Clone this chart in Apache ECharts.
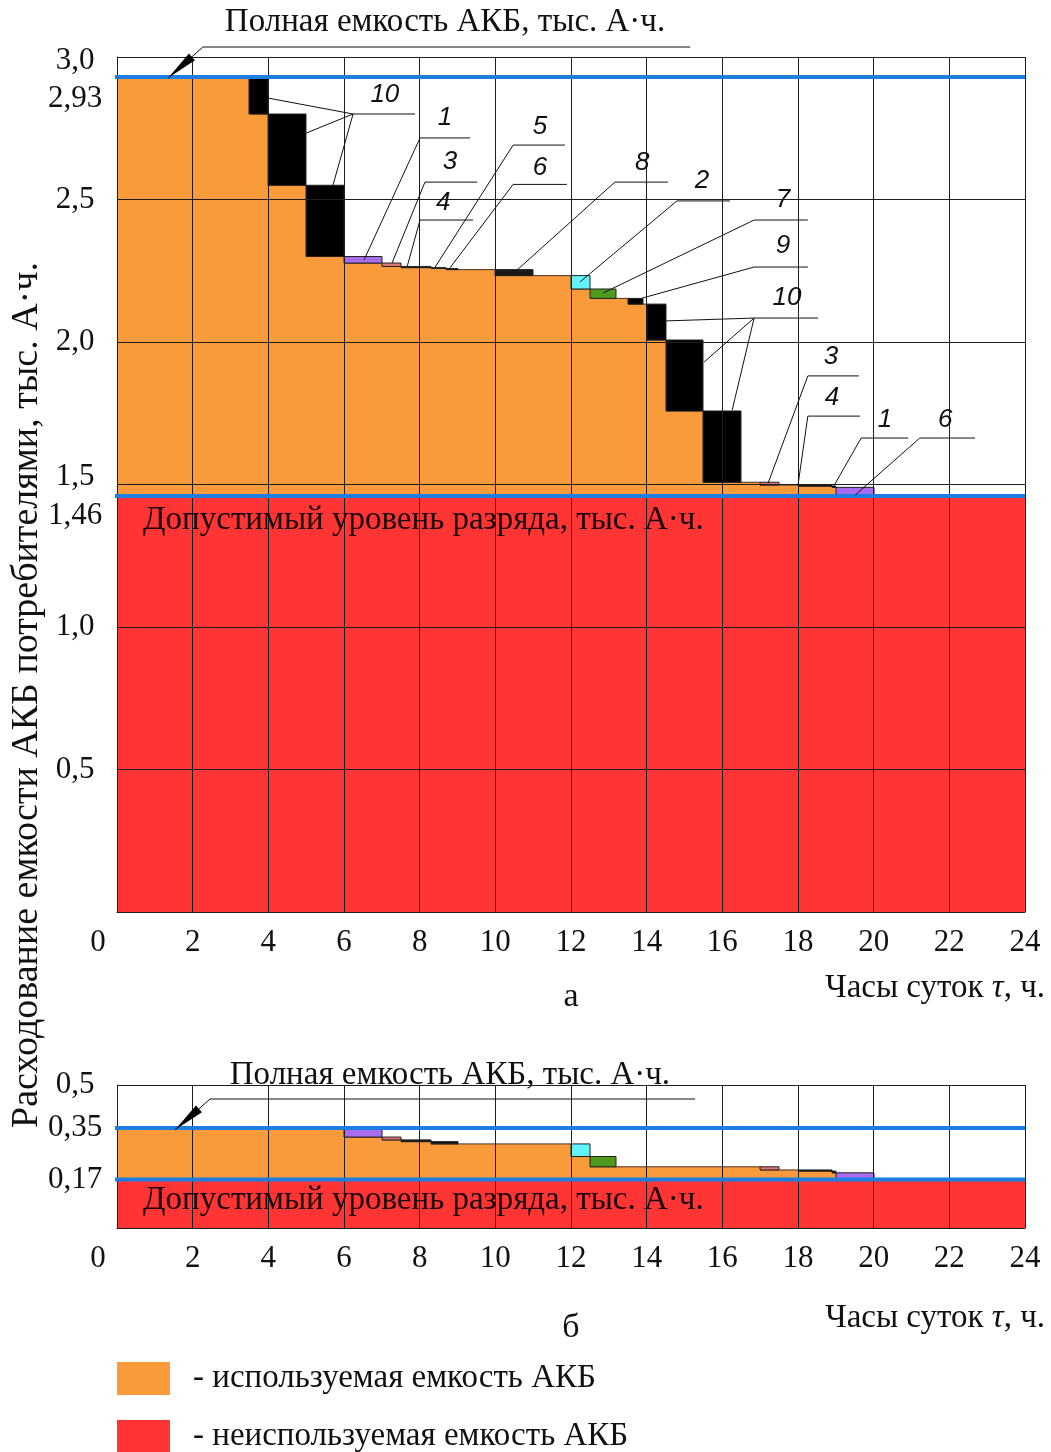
<!DOCTYPE html>
<html><head><meta charset="utf-8">
<script src="https://cdn.jsdelivr.net/npm/echarts@6/dist/echarts.min.js"></script>
<style>html,body{margin:0;padding:0;background:#fff}#c{width:1051px;height:1452px}</style>
</head><body><div id="c"></div>
<script>
// ---------- DATA ----------
const xTickInterval = 2;
const yTickValsA = [0.5, 1.0, 1.46, 1.5, 2.0, 2.5, 2.93, 3.0];
const yTickTextA = ['0,5', '1,0', '1,46', '1,5', '2,0', '2,5', '2,93', '3,0'];
const yTickValsB = [0.17, 0.35, 0.5];
const yTickTextB = ['0,17', '0,35', '0,5'];

const fullCapA = 2.93, minCapA = 1.46;
const fullCapB = 0.35, minCapB = 0.17;

// used capacity (orange) steps, panel a
const stepStartA = [0, 3.5, 4, 5, 6, 7, 7.5, 8.3, 8.7, 9.0, 10, 11, 12, 12.5, 13.2, 13.5, 13.9, 14, 14.5, 15.5, 16.5, 17, 17.5, 18, 18.9, 19];
const stepLevelA = [2.93, 2.80, 2.55, 2.30, 2.277, 2.265, 2.261, 2.258, 2.254, 2.254, 2.233, 2.233, 2.186, 2.153, 2.153, 2.133, 2.133, 2.007, 1.758, 1.508, 1.508, 1.498, 1.498, 1.494, 1.490, 1.465];
const stepLastEndA = 20;

// consumer blocks, panel a
const blockStartA  = [3.5, 4, 5, 6, 7, 7.5, 8.3, 8.7, 10, 12, 12.5, 13.5, 14, 14.5, 15.5, 17, 18, 18.9, 19];
const blockEndA    = [4, 5, 6, 7, 7.5, 8.3, 8.7, 9.0, 11, 12.5, 13.2, 13.9, 14.5, 15.5, 16.5, 17.5, 18.9, 19, 20];
const blockTopA    = [2.93, 2.80, 2.55, 2.30, 2.277, 2.265, 2.261, 2.258, 2.254, 2.233, 2.186, 2.153, 2.133, 2.007, 1.758, 1.508, 1.498, 1.494, 1.490];
const blockBottomA = [2.80, 2.55, 2.30, 2.277, 2.265, 2.261, 2.258, 2.254, 2.233, 2.186, 2.153, 2.133, 2.007, 1.758, 1.508, 1.498, 1.494, 1.490, 1.465];
const blockConsA   = [10, 10, 10, 1, 3, 4, 5, 6, 8, 2, 7, 9, 10, 10, 10, 3, 4, 6, 1];

// used capacity steps, panel b
const stepStartB = [0, 6, 7, 7.5, 8.3, 9.0, 12, 12.5, 13.2, 17, 17.5, 18, 18.9, 19];
const stepLevelB = [0.35, 0.318, 0.308, 0.302, 0.294, 0.294, 0.25, 0.214, 0.214, 0.203, 0.203, 0.199, 0.193, 0.17];
const stepLastEndB = 20;

// consumer blocks, panel b
const blockStartB  = [6, 7, 7.5, 8.3, 12, 12.5, 17, 18, 18.9, 19];
const blockEndB    = [7, 7.5, 8.3, 9.0, 12.5, 13.2, 17.5, 18.9, 19, 20];
const blockTopB    = [0.35, 0.318, 0.308, 0.302, 0.294, 0.25, 0.214, 0.203, 0.199, 0.193];
const blockBottomB = [0.318, 0.308, 0.302, 0.294, 0.25, 0.214, 0.203, 0.199, 0.193, 0.17];
const blockConsB   = [1, 3, 4, 5, 2, 7, 3, 4, 6, 1];

// consumer numbers and their colours
const consumerIds    = [1, 2, 3, 4, 5, 6, 7, 8, 9, 10];
const consumerColors = ['#a86cf0', '#62f4fa', '#e0766f', '#111111', '#111111', '#111111', '#4d9a1d', '#1a1a1a', '#000000', '#000000'];

// leader annotations, panel a (data units)
const leadTextA = ['10', '1', '3', '4', '5', '6', '8', '2', '7', '9', '10', '3', '4', '1', '6'];
const leadTxA   = [7.08, 8.67, 8.80, 8.62, 11.18, 11.18, 13.88, 15.46, 17.60, 17.60, 17.71, 18.87, 18.90, 20.30, 21.89];
const leadTyA   = [2.867, 2.786, 2.632, 2.488, 2.756, 2.612, 2.628, 2.565, 2.498, 2.337, 2.154, 1.947, 1.804, 1.726, 1.726];
const leadJxA   = [6.24, 8.01, 8.14, 8.01, 10.47, 10.47, 13.16, 14.80, 16.84, 16.84, 16.84, 18.26, 18.26, 19.67, 21.22];
const leadJyA   = [2.800, 2.716, 2.561, 2.428, 2.691, 2.553, 2.561, 2.495, 2.428, 2.263, 2.084, 1.881, 1.740, 1.663, 1.663];
const leadUxA   = [7.88, 9.33, 9.52, 9.41, 11.84, 11.89, 14.56, 16.20, 18.26, 18.26, 18.53, 19.61, 19.64, 20.91, 22.68];
const leadTargetsA = [
  [[3.99, 2.856], [5.0, 2.733], [5.71, 2.551]],
  [[6.53, 2.288]], [[7.27, 2.277]], [[7.67, 2.265]], [[8.41, 2.263]], [[8.80, 2.260]],
  [[10.52, 2.246]], [[12.24, 2.211]], [[12.85, 2.172]], [[13.88, 2.154]],
  [[14.51, 2.074], [15.52, 1.930], [16.26, 1.761]],
  [[17.21, 1.505]], [[18.0, 1.498]], [[18.93, 1.491]], [[19.51, 1.463]]
];

// captions (data units): [text x, text y, leader start x, leader y, leader end x, arrow tip x, arrow tip y, lower text x, lower text y]
const capFullText = 'Полная емкость АКБ, тыс. А·ч.';
const capMinText  = 'Допустимый уровень разряда, тыс. А·ч.';
const capA = [8.67, 3.123, 2.27, 3.035, 15.15, 1.35, 2.926, 0.69, 1.375];
const capB = [8.80, 0.535, 2.46, 0.451, 15.28, 1.53, 0.343, 0.69, 0.098];

const usedName = 'используемая емкость АКБ';
const unusedName = 'неиспользуемая емкость АКБ';

// ---------- STYLE ----------
const SERIF = '"Liberation Serif", "Times New Roman", serif';
const ORANGE = '#f99a3b';
const RED = '#ff3434';
const BLUE = '#1d7de0';
const GRIDC = '#1e1e1e';
const TXT = '#111';
const CAPFONT = '33px ' + SERIF;

function stepRows(starts, levels, lastEnd, base) {
  return starts.map((s, i) => [s, i + 1 < starts.length ? starts[i + 1] : lastEnd, base, levels[i]]);
}
function blockRows(s, e, t, b, c) { return s.map((v, i) => [v, e[i], b[i], t[i], c[i]]); }

function rectRender(fill, edge) {
  return function (params, api) {
    const p0 = api.coord([api.value(0), api.value(3)]);
    const p1 = api.coord([api.value(1), api.value(2)]);
    const x0 = Math.round(p0[0]), x1 = Math.round(p1[0]);
    const ch = [{ type: 'rect', shape: { x: x0, y: p0[1], width: x1 - x0, height: p1[1] - p0[1] },
      style: { fill: fill, stroke: null } }];
    if (edge) ch.push({ type: 'line', shape: { x1: x0, y1: p0[1], x2: x1, y2: p0[1] }, style: { stroke: edge, lineWidth: 1 } });
    return { type: 'group', children: ch };
  };
}
function blockRender(params, api) {
  const p0 = api.coord([api.value(0), api.value(3)]);
  const p1 = api.coord([api.value(1), api.value(2)]);
  const col = consumerColors[consumerIds.indexOf(api.value(4))];
  const x0 = Math.round(p0[0]), x1 = Math.round(p1[0]);
  return { type: 'rect', shape: { x: x0, y: p0[1], width: x1 - x0, height: Math.max(p1[1] - p0[1], 0.5) },
    style: { fill: col, stroke: '#222', lineWidth: 1 } };
}
function hlineRender(params, api) {
  const a = api.coord([0, api.value(0)]);
  const b = api.coord([24, api.value(0)]);
  return { type: 'line', shape: { x1: a[0] - 2, y1: a[1], x2: b[0], y2: b[1] }, style: { stroke: BLUE, lineWidth: 4 } };
}
function leaderRender(params, api) {
  const i = params.dataIndex;
  const J = api.coord([leadJxA[i], leadJyA[i]]);
  const U = api.coord([leadUxA[i], leadJyA[i]]);
  const T = api.coord([leadTxA[i], leadTyA[i]]);
  const ch = [{ type: 'line', shape: { x1: J[0], y1: J[1], x2: U[0], y2: U[1] }, style: { stroke: '#111', lineWidth: 1 } }];
  leadTargetsA[i].forEach(t => {
    const P = api.coord(t);
    ch.push({ type: 'line', shape: { x1: J[0], y1: J[1], x2: P[0], y2: P[1] }, style: { stroke: '#111', lineWidth: 1 } });
  });
  ch.push({ type: 'text', x: T[0], y: T[1], style: { text: leadTextA[i], textAlign: 'center', textVerticalAlign: 'middle',
    font: 'italic 26px "Liberation Sans", sans-serif', fill: '#111' } });
  return { type: 'group', children: ch };
}
function captionRender(cap) {
  return function (params, api) {
    const T = api.coord([cap[0], cap[1]]);
    const L0 = api.coord([cap[2], cap[3]]);
    const L1 = api.coord([cap[4], cap[3]]);
    const A = api.coord([cap[5], cap[6]]);
    const D = api.coord([cap[7], cap[8]]);
    const dx = L0[0] - A[0], dy = L0[1] - A[1];
    const len = Math.sqrt(dx * dx + dy * dy);
    const ux = dx / len, uy = dy / len;
    const bx = A[0] + ux * 32, by = A[1] + uy * 32;
    const w = 4.5;
    return { type: 'group', children: [
      { type: 'line', shape: { x1: L0[0], y1: L0[1], x2: L1[0], y2: L1[1] }, style: { stroke: '#111', lineWidth: 1 } },
      { type: 'line', shape: { x1: L0[0], y1: L0[1], x2: A[0], y2: A[1] }, style: { stroke: '#111', lineWidth: 1 } },
      { type: 'polygon', shape: { points: [[A[0], A[1]], [bx - uy * w, by + ux * w], [bx + uy * w, by - ux * w]] }, style: { fill: '#000' } },
      { type: 'text', x: T[0], y: T[1], style: { text: capFullText, textAlign: 'center', textVerticalAlign: 'middle', font: CAPFONT, fill: TXT } },
      { type: 'text', x: D[0], y: D[1], style: { text: capMinText, textAlign: 'left', textVerticalAlign: 'middle', font: CAPFONT, fill: '#1a0505' } }
    ] };
  };
}

function mkX(gi) {
  return {
    gridIndex: gi, type: 'value', min: 0, max: 24, interval: xTickInterval, z: 3,
    axisLine: { show: true, lineStyle: { color: GRIDC, width: 1 } },
    axisTick: { show: false },
    splitLine: { show: true, lineStyle: { color: GRIDC, width: 1 } },
    axisLabel: {
      margin: 15, fontSize: 31, fontFamily: SERIF, color: TXT, hideOverlap: false,
      formatter: v => v === 0 ? '{z|0}' : String(v),
      rich: { z: { padding: [0, 38, 0, 0], fontSize: 31, fontFamily: SERIF, color: TXT } }
    }
  };
}
function mkY(gi, max, vals, texts, full, minc) {
  return {
    gridIndex: gi, type: 'value', min: 0, max: max, interval: 0.5, z: 3,
    axisLine: { show: true, lineStyle: { color: GRIDC, width: 1 } },
    axisTick: { show: false },
    splitLine: { show: true, lineStyle: { color: GRIDC, width: 1 } },
    axisLabel: {
      customValues: vals, align: 'center', margin: 42, fontSize: 31, fontFamily: SERIF, color: TXT, hideOverlap: false,
      formatter: v => {
        const i = vals.findIndex(t => Math.abs(t - v) < 1e-6);
        const s = texts[i];
        if (gi === 0 && Math.abs(v - full) < 1e-6) return '{dn|' + s + '}';
        if (gi === 0 && Math.abs(v - minc) < 1e-6) return '{dn2|' + s + '}';
        if (gi === 0 && Math.abs(v - 1.5) < 1e-6) return '{up|' + s + '}';
        if (gi === 0 && Math.abs(v - max) < 1e-6) return '{dn3|' + s + '}';
        return s;
      },
      rich: {
        dn: { padding: [44, 0, 0, 0], fontSize: 31, fontFamily: SERIF, color: TXT },
        dn2: { padding: [40, 0, 0, 0], fontSize: 31, fontFamily: SERIF, color: TXT },
        dn3: { padding: [8, 0, 0, 0], fontSize: 31, fontFamily: SERIF, color: TXT },
        up: { padding: [0, 0, 16, 0], fontSize: 31, fontFamily: SERIF, color: TXT }
      }
    }
  };
}

const series = [];
[[0, 24, minCapA, fullCapA, stepStartA, stepLevelA, stepLastEndA, [blockStartA, blockEndA, blockTopA, blockBottomA, blockConsA], capA],
 [1, 24, minCapB, fullCapB, stepStartB, stepLevelB, stepLastEndB, [blockStartB, blockEndB, blockTopB, blockBottomB, blockConsB], capB]]
.forEach(p => {
  const gi = p[0];
  series.push({ name: unusedName, type: 'custom', xAxisIndex: gi, yAxisIndex: gi, z: 1, silent: true,
    itemStyle: { color: RED }, renderItem: rectRender(RED, null), data: [[0, p[1], 0, p[2]]] });
  series.push({ name: usedName, type: 'custom', xAxisIndex: gi, yAxisIndex: gi, z: 1, silent: true,
    itemStyle: { color: ORANGE }, renderItem: rectRender(ORANGE, '#4a3020'), data: stepRows(p[4], p[5], p[6], p[2]) });
  series.push({ name: 'consumers', type: 'custom', xAxisIndex: gi, yAxisIndex: gi, z: 2, silent: true,
    renderItem: blockRender, data: blockRows.apply(null, p[7]) });
  series.push({ name: 'levels', type: 'custom', xAxisIndex: gi, yAxisIndex: gi, z: 5, silent: true,
    renderItem: hlineRender, data: [[p[3]], [p[2]]] });
  series.push({ name: 'captions', type: 'custom', xAxisIndex: gi, yAxisIndex: gi, z: 6, silent: true, clip: false,
    renderItem: captionRender(p[8]), data: [[0]] });
});
series.push({ name: 'leaders', type: 'custom', xAxisIndex: 0, yAxisIndex: 0, z: 6, silent: true, clip: false,
  renderItem: leaderRender, data: leadTextA.map((t, i) => [leadJxA[i], leadJyA[i]]) });

function mkLegend(name, top) {
  return {
    orient: 'vertical', left: 117, top: top, padding: 0, itemWidth: 53, itemHeight: 33, icon: 'rect',
    selectedMode: false, data: [name],
    formatter: n => '- ' + n,
    textStyle: { fontFamily: SERIF, fontSize: 33, color: TXT, padding: [0, 0, 0, 18] }
  };
}

const option = {
  animation: false,
  backgroundColor: '#fff',
  grid: [
    { left: 117, top: 57, width: 908, height: 855, outerBoundsMode: 'none' },
    { left: 117, top: 1085, width: 908, height: 143, outerBoundsMode: 'none' }
  ],
  xAxis: [mkX(0), mkX(1)],
  yAxis: [mkY(0, 3, yTickValsA, yTickTextA, fullCapA, minCapA), mkY(1, 0.5, yTickValsB, yTickTextB, fullCapB, minCapB)],
  legend: [mkLegend(usedName, 1362), mkLegend(unusedName, 1420)],
  graphic: [
    { type: 'text', x: 27, y: 695, rotation: Math.PI / 2, silent: true,
      style: { text: 'Расходование емкости АКБ потребителями, тыс. А·ч.', font: '38px ' + SERIF, fill: TXT, textAlign: 'center', textVerticalAlign: 'middle' } },
    { type: 'text', x: 571, y: 997, silent: true, style: { text: 'а', font: '34px ' + SERIF, fill: TXT, textAlign: 'center', textVerticalAlign: 'middle' } },
    { type: 'text', x: 571, y: 1328, silent: true, style: { text: 'б', font: '34px ' + SERIF, fill: TXT, textAlign: 'center', textVerticalAlign: 'middle' } },
    { type: 'text', x: 1045, y: 988, silent: true, style: { text: 'Часы суток {i|τ}, ч.', font: '33px ' + SERIF, fill: TXT, textAlign: 'right', textVerticalAlign: 'middle',
      rich: { i: { fontStyle: 'italic', fontSize: 33, fontFamily: SERIF, fill: TXT } } } },
    { type: 'text', x: 1045, y: 1318, silent: true, style: { text: 'Часы суток {i|τ}, ч.', font: '33px ' + SERIF, fill: TXT, textAlign: 'right', textVerticalAlign: 'middle',
      rich: { i: { fontStyle: 'italic', fontSize: 33, fontFamily: SERIF, fill: TXT } } } }
  ],
  series: series
};

const chart = echarts.init(document.getElementById('c'), null, { renderer: 'canvas' });
chart.setOption(option);
</script>
</body></html>
